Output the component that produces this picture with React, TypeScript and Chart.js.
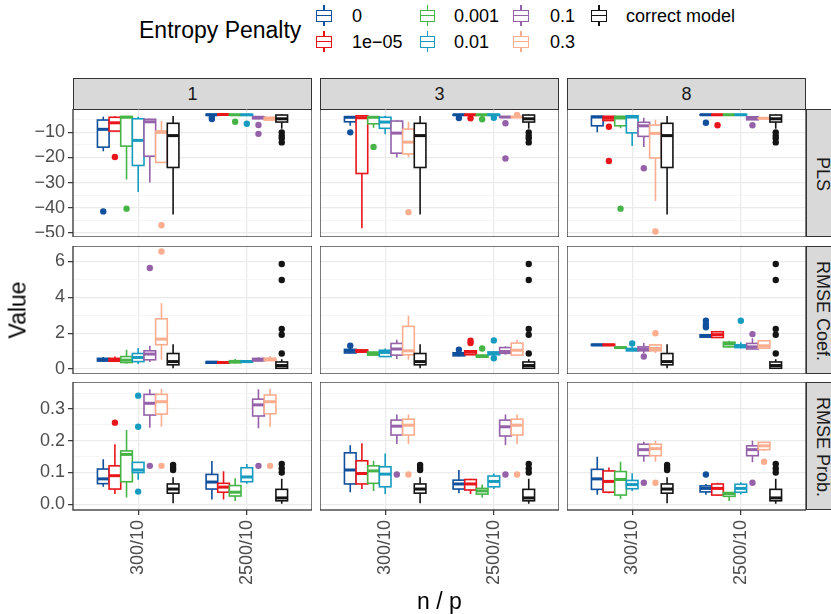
import React, { useEffect, useRef } from "react";
import { Chart, registerables } from "chart.js";
Chart.register(...registerables);

// ---------------- data ----------------
const SERIES = ["0", "1e\u221205", "0.001", "0.01", "0.1", "0.3", "correct model"];
const COLORS = ["#0f4f9c", "#e8161b", "#47b448", "#179cc0", "#9561a9", "#fbad8f", "#141414"];
const CATEGORIES = ["300/10", "2500/10"];
const FACET_COLS = ["1", "3", "8"];
const FACET_ROWS = ["PLS", "RMSE Coef.", "RMSE Prob."];

// box: [lower whisker, Q1, median, Q3, upper whisker, outliers]
type Box = [number, number, number, number, number, number[]];

// ---- PLS ----
const PLS_1: Box[][] = [
  [[-17.5, -15.9, -8.8, -5.1, -3.8, [-41.5]], [-3.4, -3.2, -3.0, -2.8, -2.7, [-4.0, -4.7]]],
  [[-9.5, -9.5, -6.2, -4.0, -3.6, [-19.8]], [-3.3, -3.1, -2.9, -2.8, -2.7, []]],
  [[-28.8, -15.5, -4.0, -3.7, -3.6, [-40.4]], [-3.4, -3.2, -3.0, -2.9, -2.8, [-5.8]]],
  [[-33.8, -23.2, -13.2, -4.6, -3.8, []], [-3.5, -3.2, -3.0, -2.9, -2.8, [-6.6]]],
  [[-30.0, -19.5, -5.8, -4.8, -4.6, []], [-4.8, -4.6, -4.0, -3.8, -3.6, [-7.1, -10.6]]],
  [[-22.0, -22.0, -10.0, -9.5, -5.5, [-47.0]], [-5.3, -5.1, -4.6, -4.0, -3.9, []]],
];
const PLS_3: Box[][] = [
  [[-7.4, -5.8, -4.0, -3.8, -3.6, [-10.0]], [-3.4, -3.2, -3.0, -2.9, -2.8, [-4.3]]],
  [[-48.2, -26.4, -4.2, -3.4, -3.2, []], [-3.4, -3.2, -3.0, -2.9, -2.8, [-4.4]]],
  [[-8.2, -6.6, -4.0, -3.8, -3.6, [-15.8]], [-3.4, -3.2, -3.0, -2.9, -2.8, [-4.8]]],
  [[-10.8, -8.4, -5.9, -4.0, -3.4, []], [-3.4, -3.2, -3.0, -2.9, -2.8, [-4.2]]],
  [[-20.0, -18.3, -10.3, -5.5, -5.3, []], [-4.1, -4.0, -3.9, -3.8, -3.7, [-6.4, -20.4]]],
  [[-19.8, -18.6, -13.9, -8.7, -5.8, [-41.8]], [-4.1, -4.0, -3.9, -3.8, -3.7, [-3.1]]],
];
const PLS_8: Box[][] = [
  [[-10.0, -7.4, -3.9, -3.6, -3.5, []], [-3.2, -3.1, -3.0, -2.9, -2.8, [-6.2]]],
  [[-5.3, -5.3, -4.4, -3.6, -3.5, [-7.8, -21.4]], [-3.2, -3.1, -3.0, -2.9, -2.8, [-7.2]]],
  [[-8.4, -7.4, -4.3, -3.6, -3.5, [-40.4]], [-3.2, -3.1, -3.0, -2.9, -2.8, []]],
  [[-15.4, -10.2, -3.9, -3.4, -3.3, []], [-3.2, -3.1, -3.0, -2.9, -2.8, []]],
  [[-15.8, -11.6, -7.4, -6.0, -4.2, [-24.3]], [-5.1, -5.0, -4.4, -3.8, -3.7, [-7.2]]],
  [[-37.4, -20.2, -10.4, -7.1, -5.0, [-49.5]], [-4.6, -4.5, -4.4, -4.3, -4.2, []]],
];
const PLS_CORRECT: Box[] = [
  [-42.7, -24.0, -11.3, -6.4, -3.5, []],
  [-8.6, -5.9, -4.6, -3.1, -2.9, [-10.0, -11.4, -12.4, -14.0]],
];

// ---- RMSE Coef. ----
const COEF_1: Box[][] = [
  [[0.42, 0.45, 0.52, 0.6, 0.68, []], [0.3, 0.33, 0.38, 0.42, 0.45, []]],
  [[0.4, 0.44, 0.5, 0.6, 0.7, []], [0.3, 0.33, 0.37, 0.41, 0.44, []]],
  [[0.3, 0.37, 0.5, 0.7, 1.08, []], [0.32, 0.36, 0.41, 0.47, 0.56, []]],
  [[0.28, 0.42, 0.65, 0.87, 1.17, []], [0.36, 0.39, 0.42, 0.46, 0.5, []]],
  [[0.4, 0.52, 0.84, 1.02, 1.3, [5.63]], [0.42, 0.46, 0.52, 0.6, 0.66, []]],
  [[0.52, 1.36, 1.67, 2.8, 3.66, [6.54]], [0.45, 0.47, 0.55, 0.6, 0.73, []]],
];
const COEF_3: Box[][] = [
  [[0.88, 0.9, 1.0, 1.1, 1.13, [1.3]], [0.72, 0.74, 0.86, 0.91, 0.95, [1.08]]],
  [[0.93, 0.95, 1.0, 1.07, 1.08, []], [0.78, 0.8, 0.94, 1.02, 1.06, [1.45, 1.58]]],
  [[0.76, 0.78, 0.87, 0.95, 0.98, []], [0.62, 0.67, 0.72, 0.78, 0.8, [1.15]]],
  [[0.67, 0.7, 0.93, 1.05, 1.15, []], [0.75, 0.8, 0.87, 0.96, 0.98, [0.61, 1.6]]],
  [[0.56, 0.78, 1.12, 1.43, 1.63, []], [0.8, 0.88, 0.98, 1.2, 1.28, []]],
  [[0.52, 0.8, 1.02, 2.38, 2.97, []], [0.75, 0.78, 1.05, 1.45, 1.63, []]],
];
const COEF_8: Box[][] = [
  [[1.3, 1.32, 1.35, 1.38, 1.4, []], [1.76, 1.78, 1.85, 1.91, 1.95, [2.33, 2.47, 2.69]]],
  [[1.31, 1.32, 1.35, 1.38, 1.4, []], [1.74, 1.76, 1.92, 2.08, 2.12, []]],
  [[1.15, 1.17, 1.2, 1.22, 1.24, []], [1.2, 1.24, 1.4, 1.5, 1.58, []]],
  [[1.0, 1.02, 1.08, 1.15, 1.24, [1.43]], [1.15, 1.2, 1.28, 1.35, 1.5, [2.69]]],
  [[0.9, 1.02, 1.12, 1.24, 1.45, [0.7]], [1.1, 1.12, 1.24, 1.43, 1.72, [1.95]]],
  [[0.9, 1.02, 1.15, 1.35, 1.38, [2.0]], [1.15, 1.17, 1.3, 1.58, 1.6, []]],
];
const COEF_CORRECT: Box[] = [
  [0.05, 0.24, 0.42, 0.87, 1.39, []],
  [0.02, 0.05, 0.2, 0.4, 0.55, [0.87, 1.91, 2.23, 4.96, 5.85]],
];

// ---- RMSE Prob. ----
const PROB_1: Box[][] = [
  [[0.055, 0.065, 0.08, 0.111, 0.142, []], [0.015, 0.048, 0.07, 0.094, 0.136, []]],
  [[0.032, 0.048, 0.09, 0.121, 0.189, [0.257]], [0.015, 0.038, 0.054, 0.066, 0.104, []]],
  [[0.021, 0.071, 0.157, 0.168, 0.234, []], [0.01, 0.026, 0.038, 0.059, 0.082, []]],
  [[0.077, 0.1, 0.108, 0.132, 0.132, [0.04, 0.244, 0.342]], [0.065, 0.071, 0.086, 0.115, 0.127, []]],
  [[0.241, 0.281, 0.318, 0.346, 0.362, [0.121]], [0.239, 0.278, 0.313, 0.331, 0.362, [0.121]]],
  [[0.244, 0.284, 0.323, 0.346, 0.364, [0.121]], [0.244, 0.285, 0.323, 0.344, 0.364, [0.121]]],
];
const PROB_3: Box[][] = [
  [[0.038, 0.064, 0.108, 0.162, 0.186, []], [0.035, 0.048, 0.064, 0.076, 0.108, []]],
  [[0.048, 0.064, 0.097, 0.137, 0.192, []], [0.032, 0.045, 0.064, 0.078, 0.08, []]],
  [[0.042, 0.066, 0.105, 0.121, 0.137, []], [0.021, 0.032, 0.042, 0.05, 0.062, []]],
  [[0.032, 0.055, 0.095, 0.118, 0.16, []], [0.048, 0.055, 0.072, 0.089, 0.097, []]],
  [[0.19, 0.218, 0.246, 0.265, 0.283, [0.094]], [0.187, 0.215, 0.244, 0.265, 0.283, [0.094]]],
  [[0.19, 0.218, 0.249, 0.268, 0.283, [0.094]], [0.19, 0.218, 0.249, 0.268, 0.283, [0.094]]],
];
const PROB_8: Box[][] = [
  [[0.03, 0.047, 0.08, 0.11, 0.15, []], [0.03, 0.039, 0.05, 0.058, 0.064, [0.094]]],
  [[0.035, 0.038, 0.072, 0.105, 0.116, []], [0.027, 0.029, 0.05, 0.064, 0.068, []]],
  [[0.017, 0.029, 0.078, 0.103, 0.134, []], [0.01, 0.025, 0.034, 0.037, 0.037, []]],
  [[0.042, 0.049, 0.062, 0.075, 0.098, []], [0.031, 0.038, 0.05, 0.063, 0.069, []]],
  [[0.134, 0.153, 0.172, 0.189, 0.197, [0.068]], [0.132, 0.153, 0.172, 0.184, 0.2, [0.068]]],
  [[0.134, 0.153, 0.175, 0.189, 0.2, [0.068]], [0.168, 0.172, 0.184, 0.195, 0.197, [0.134]]],
];
const PROB_CORRECT: Box[] = [
  [0.003, 0.035, 0.048, 0.064, 0.085, [0.108, 0.115, 0.124]],
  [0.002, 0.011, 0.02, 0.047, 0.08, [0.1, 0.113, 0.127]],
];

// axes
const PLS_RANGE = [-51.7, -0.7];
const PLS_MAJOR = [-50, -40, -30, -20, -10];
const PLS_MINOR = [-45, -35, -25, -15, -5];
const COEF_RANGE = [-0.27, 6.85];
const COEF_MAJOR = [0, 2, 4, 6];
const COEF_MINOR = [1, 3, 5];
const PROB_RANGE = [-0.018, 0.385];
const PROB_MAJOR = [0, 0.1, 0.2, 0.3];
const PROB_MINOR = [0.05, 0.15, 0.25, 0.35];

const PANELS: Box[][][][] = [
  [PLS_1, PLS_3, PLS_8].map((p) => [...p, PLS_CORRECT]),
  [COEF_1, COEF_3, COEF_8].map((p) => [...p, COEF_CORRECT]),
  [PROB_1, PROB_3, PROB_8].map((p) => [...p, PROB_CORRECT]),
];
const ROW_AXES = [
  { range: PLS_RANGE, major: PLS_MAJOR, minor: PLS_MINOR, fmt: (v: number) => String(v).replace("-", "\u2212") },
  { range: COEF_RANGE, major: COEF_MAJOR, minor: COEF_MINOR, fmt: (v: number) => String(v) },
  { range: PROB_RANGE, major: PROB_MAJOR, minor: PROB_MINOR, fmt: (v: number) => v.toFixed(1) },
];

// ---------------- layout ----------------
const FONT = "'Liberation Sans', Arial, Helvetica, sans-serif";
const PANEL_LEFT = [73, 320, 567];
const PANEL_TOP = [109, 246, 382];
const PANEL_W = 239;
const PANEL_H = 128;
const Y_AXIS_W = 73;
const X_AXIS_H = 92;
const CAT_POS = [1, 2];
const DODGE_W = 0.75;
const SLOT = DODGE_W / 7;
const dodge = (si: number) => (si - 3) * SLOT;

function boxPlugin(boxes: Box[][]) {
  return {
    id: "boxes",
    beforeDatasetsDraw(chart: any) {
      const { ctx, chartArea: a, scales } = chart;
      const x = scales.x, y = scales.y;
      ctx.save();
      ctx.beginPath();
      ctx.rect(a.left, a.top, a.right - a.left, a.bottom - a.top);
      ctx.clip();
      boxes.forEach((series, si) => {
        series.forEach((b, ci) => {
          const xc = CAT_POS[ci] + dodge(si);
          const xl = x.getPixelForValue(xc - SLOT / 2);
          const xr = x.getPixelForValue(xc + SLOT / 2);
          const xm = x.getPixelForValue(xc);
          const [lo, q1, med, q3, hi] = b;
          const pLo = y.getPixelForValue(lo), pQ1 = y.getPixelForValue(q1);
          const pMed = y.getPixelForValue(med), pQ3 = y.getPixelForValue(q3);
          const pHi = y.getPixelForValue(hi);
          ctx.strokeStyle = COLORS[si];
          ctx.lineWidth = 1.6;
          ctx.beginPath();
          ctx.moveTo(xm, pHi); ctx.lineTo(xm, pQ3);
          ctx.moveTo(xm, pQ1); ctx.lineTo(xm, pLo);
          ctx.stroke();
          ctx.fillStyle = "#ffffff";
          ctx.fillRect(xl, pQ3, xr - xl, pQ1 - pQ3);
          ctx.strokeRect(xl, pQ3, xr - xl, pQ1 - pQ3);
          ctx.lineWidth = 3;
          ctx.beginPath();
          ctx.moveTo(xl, pMed); ctx.lineTo(xr, pMed);
          ctx.stroke();
        });
      });
      ctx.restore();
    },
    afterDatasetsDraw(chart: any) {
      const { ctx, chartArea: a } = chart;
      ctx.save();
      ctx.strokeStyle = "#333333";
      ctx.lineWidth = 1.3;
      ctx.strokeRect(a.left, a.top, a.right - a.left, a.bottom - a.top);
      ctx.restore();
    },
  };
}

function Panel({ row, col }: { row: number; col: number }) {
  const ref = useRef<HTMLCanvasElement>(null);
  const isLeft = col === 0;
  const isBottom = row === 2;
  const padL = isLeft ? Y_AXIS_W : 0;
  const padB = isBottom ? X_AXIS_H : 0;
  const w = PANEL_W + padL;
  const h = PANEL_H + padB;
  useEffect(() => {
    const boxes = PANELS[row][col];
    const ax = ROW_AXES[row];
    const isMajor = (v: number) => ax.major.some((m) => Math.abs(m - v) < 1e-9);
    const datasets = boxes.map((series, si) => ({
      type: "scatter" as const,
      label: SERIES[si],
      data: series.flatMap((b, ci) => b[5].map((v) => ({ x: CAT_POS[ci] + dodge(si), y: v }))),
      backgroundColor: COLORS[si],
      borderWidth: 0,
      pointRadius: 3.2,
      pointHoverRadius: 3.2,
    }));
    const tickFont = { family: FONT, size: 18 };
    const chart = new Chart(ref.current as HTMLCanvasElement, {
      type: "scatter",
      data: { datasets },
      plugins: [boxPlugin(boxes)],
      options: {
        animation: false,
        responsive: false,
        devicePixelRatio: 1,
        events: [],
        layout: { autoPadding: false, padding: 0 },
        plugins: { legend: { display: false }, tooltip: { enabled: false }, title: { display: false } },
        scales: {
          x: {
            type: "linear",
            min: 0.4,
            max: 2.6,
            afterBuildTicks: (s: any) => { s.ticks = CAT_POS.map((v) => ({ value: v })); },
            afterFit: (s: any) => {
              s.height = padB;
              s.paddingLeft = 0; s.paddingRight = 0; s.paddingTop = 0; s.paddingBottom = 0;
            },
            border: { display: false },
            grid: {
              color: "#ebebeb",
              lineWidth: 1.3,
              drawTicks: isBottom,
              tickLength: 5,
              tickColor: "#333333",
              tickWidth: 1.2,
            },
            ticks: {
              display: isBottom,
              autoSkip: false,
              minRotation: 90,
              maxRotation: 90,
              padding: 5,
              color: "#4d4d4d",
              font: tickFont,
              callback: (v: any) => CATEGORIES[CAT_POS.indexOf(Number(v))] ?? "",
            },
          },
          y: {
            type: "linear",
            min: ax.range[0],
            max: ax.range[1],
            afterBuildTicks: (s: any) => {
              s.ticks = [...ax.major, ...ax.minor].sort((a, b) => a - b).map((v) => ({ value: v }));
            },
            afterFit: (s: any) => {
              s.width = padL;
              s.paddingLeft = 0; s.paddingRight = 0; s.paddingTop = 0; s.paddingBottom = 0;
            },
            border: { display: false },
            grid: {
              color: (c: any) => (isMajor(c.tick.value) ? "#ebebeb" : "#f3f3f3"),
              lineWidth: (c: any) => (isMajor(c.tick.value) ? 1.3 : 0.8),
              drawTicks: isLeft,
              tickLength: 5,
              tickColor: (c: any) => (isMajor(c.tick.value) ? "#333333" : "rgba(0,0,0,0)"),
              tickWidth: 1.2,
            },
            ticks: {
              display: isLeft,
              autoSkip: false,
              padding: 3,
              color: "#4d4d4d",
              font: tickFont,
              callback: (v: any) => (isMajor(Number(v)) ? ax.fmt(Number(v)) : ""),
            },
          },
        },
      } as any,
    });
    return () => chart.destroy();
  }, [row, col]);
  return (
    <canvas
      ref={ref}
      width={w}
      height={h}
      style={{ position: "absolute", left: PANEL_LEFT[col] - padL, top: PANEL_TOP[row], width: w, height: h }}
    />
  );
}

const LEG_ICON_X = [324, 427.5, 521, 599];
const LEG_TEXT_X = [352, 454, 550, 626];
const LEG_ROW_Y = [15.7, 41.7];

function LegendItem({ si }: { si: number }) {
  const col = Math.floor(si / 2);
  const row = si % 2;
  const cx = LEG_ICON_X[col];
  const cy = LEG_ROW_Y[row];
  const c = COLORS[si];
  return (
    <>
      <div style={{ position: "absolute", left: cx - 0.75, top: cy - 10.5, width: 1.5, height: 21, background: c }} />
      <div
        style={{
          position: "absolute", left: cx - 7.75, top: cy - 6.2, width: 15.5, height: 12.4,
          border: `1.5px solid ${c}`, boxSizing: "border-box", background: "#fff",
        }}
      />
      <div style={{ position: "absolute", left: cx - 7.75, top: cy - 0.75, width: 15.5, height: 1.5, background: c }} />
      <div
        style={{
          position: "absolute", left: LEG_TEXT_X[col], top: cy, transform: "translateY(-50%)",
          fontSize: 18, lineHeight: "20px", whiteSpace: "nowrap", color: "#000",
        }}
      >
        {SERIES[si]}
      </div>
    </>
  );
}

export default function App() {
  return (
    <div
      style={{
        position: "fixed", left: 0, top: 0, width: 831, height: 614, overflow: "hidden",
        background: "#fff", fontFamily: FONT,
      }}
    >
      {/* legend */}
      <div style={{ position: "absolute", left: 139, top: 29.5, transform: "translateY(-50%)", fontSize: 23, lineHeight: "26px", whiteSpace: "nowrap" }}>
        Entropy Penalty
      </div>
      {SERIES.map((_, si) => <LegendItem key={si} si={si} />)}

      {/* top strips */}
      {FACET_COLS.map((t, c) => (
        <div
          key={"ts" + c}
          style={{
            position: "absolute", left: PANEL_LEFT[c], top: 78, width: PANEL_W, height: 32,
            background: "#d9d9d9", border: "1.2px solid #333", boxSizing: "border-box",
            display: "flex", alignItems: "center", justifyContent: "center", fontSize: 18, color: "#1a1a1a",
          }}
        >
          {t}
        </div>
      ))}
      {/* right strips */}
      {FACET_ROWS.map((t, r) => (
        <div
          key={"rs" + r}
          style={{
            position: "absolute", left: 806, top: PANEL_TOP[r], width: 32, height: PANEL_H,
            background: "#d9d9d9", border: "1.2px solid #333", boxSizing: "border-box",
          }}
        >
          <div
            style={{
              position: "absolute", left: 15, top: PANEL_H / 2, transform: "translate(-50%, -50%) rotate(90deg)",
              fontSize: 18, color: "#1a1a1a", whiteSpace: "nowrap",
            }}
          >
            {t}
          </div>
        </div>
      ))}

      {[0, 1, 2].map((r) => [0, 1, 2].map((c) => <Panel key={r + "-" + c} row={r} col={c} />))}

      {/* axis titles */}
      <div style={{ position: "absolute", left: 18, top: 310, transform: "translate(-50%, -50%) rotate(-90deg)", fontSize: 23, whiteSpace: "nowrap" }}>
        Value
      </div>
      <div style={{ position: "absolute", left: 439.5, top: 601, transform: "translate(-50%, -50%)", fontSize: 23, whiteSpace: "nowrap" }}>
        n / p
      </div>
    </div>
  );
}
